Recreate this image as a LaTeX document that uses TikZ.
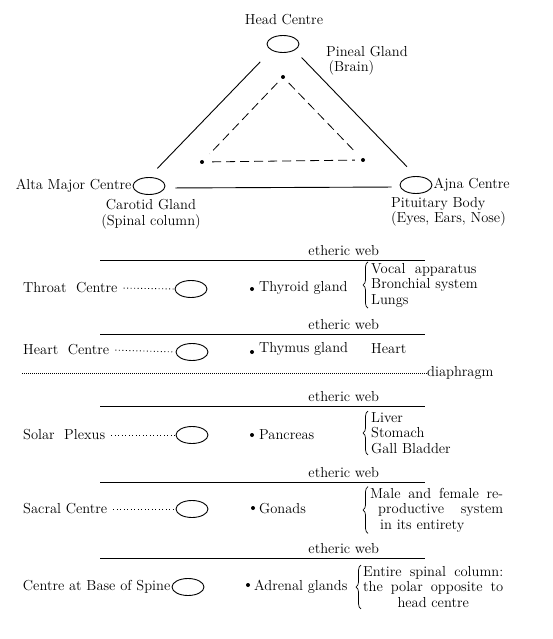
\documentclass[tikz,border=0pt]{standalone}
\usetikzlibrary{shapes.geometric, decorations.pathreplacing, calc, positioning}

\begin{document}
\begin{tikzpicture}[x=1pt, y=-1pt,
  every node/.style={font=\fontsize{14.5}{15.5}\selectfont, inner sep=1pt},
  centre/.style={draw, ellipse, minimum width=32pt, minimum height=17pt, inner sep=0pt, line width=0.9pt},
  gland/.style={circle, fill, inner sep=0pt, minimum size=4pt},
  web/.style={line width=0.8pt},
  leader/.style={line width=0.9pt, dash pattern=on 0.9pt off 2.6pt},
  innerdash/.style={line width=0.8pt, dash pattern=on 9pt off 5pt},
  brace/.style={decorate, decoration={brace, amplitude=5pt}, line width=0.7pt}]
  \useasboundingbox (0,0) rectangle (552,639);

  \node (headlbl) at (284,20) {Head Centre};
  \node[centre] (head) at (283,44) {};
  \node[centre] (alta) at (149,186) {};
  \node[centre] (ajna) at (416,185) {};
  \node[anchor=east] (altalbl) at (alta.west) {Alta Major Centre};
  \node[anchor=west] (ajnalbl) at (ajna.east) {Ajna Centre};
  \node[anchor=north west, align=left] (pineal) at (325,45) {Pineal Gland\\\,(Brain)};
  \node[align=center] (carotid) at (151,214) {Carotid Gland\\(Spinal column)};
  \node[anchor=west, align=left] (pituitary) at (390,212) {Pituitary Body\\(Eyes, Ears, Nose)};
  \draw[line width=0.9pt, shorten <=16pt, shorten >=12pt] (head.south west) -- (alta.north);
  \draw[line width=0.9pt, shorten <=10pt, shorten >=13pt] (head.south east) -- (ajna.north);
  \draw[line width=0.9pt, shorten <=10pt, shorten >=8pt] ([yshift=-2pt]alta.east) -- ([yshift=-2pt]ajna.west);
  \node[gland] (pinealpt) at (283,77) {};
  \node[gland] (carotidpt) at (202,162) {};
  \node[gland] (pituitarypt) at (363,160) {};
  \draw[innerdash, shorten <=6pt, shorten >=9pt] (pinealpt) -- (carotidpt);
  \draw[innerdash, shorten <=6pt, shorten >=8pt] (pinealpt) -- (pituitarypt);
  \draw[innerdash, shorten <=8pt, shorten >=6pt] (carotidpt) -- (pituitarypt);

  \coordinate (web1w) at (100,260); \coordinate (web1e) at (425,260);
  \coordinate (web2w) at (100,334); \coordinate (web2e) at (425,334);
  \coordinate (web3w) at (100,406); \coordinate (web3e) at (425,406);
  \coordinate (web4w) at (100,482); \coordinate (web4e) at (425,482);
  \coordinate (web5w) at (100,558); \coordinate (web5e) at (425,558);
  \draw[web] (web1w) -- (web1e) node[pos=0.75, above=3pt] {etheric web};
  \draw[web] (web2w) -- (web2e) node[pos=0.75, above=3pt] {etheric web};
  \draw[web] (web3w) -- (web3e) node[pos=0.75, above=3pt] {etheric web};
  \draw[web] (web4w) -- (web4e) node[pos=0.75, above=3pt] {etheric web};
  \draw[web] (web5w) -- (web5e) node[pos=0.75, above=3pt] {etheric web};

  \node[anchor=west] (throatlbl) at (22,288) {Throat\ \ Centre};
  \node[centre] (throat) at (191,289) {};
  \draw[leader, shorten <=5pt, shorten >=1pt] (throatlbl.east) -- (throat.west);
  \node[gland] (thyroidpt) at (252,289) {};
  \node[anchor=west] (thyroid) at (258,288) {Thyroid gland};
  \node[anchor=west, align=left] (throatorg) at (370,285) {Vocal\ \ apparatus\\Bronchial system\\Lungs};
  \draw[brace] ([xshift=-2pt]throatorg.south west) -- ([xshift=-2pt]throatorg.north west);

  \node[anchor=west] (heartlbl) at (22,350) {Heart\ \ Centre};
  \node[centre] (heart) at (192,352) {};
  \draw[leader, shorten <=5pt, shorten >=1pt] (heartlbl.east) -- (heart.west);
  \node[gland] (thymuspt) at (252,352) {};
  \node[anchor=west] (thymus) at (258,349) {Thymus gland};
  \node[anchor=west] (heartorg) at (370,349) {Heart};

  \node[anchor=west, inner sep=0pt] (diaphragm) at (427,373) {diaphragm};
  \coordinate (diaphragmw) at (22,373);
  \draw[line width=0.8pt, dash pattern=on 1pt off 1pt] (diaphragmw) -- (diaphragm.west);

  \node[anchor=west] (solarlbl) at (22,435) {Solar\ \ Plexus};
  \node[centre] (solar) at (192,435) {};
  \draw[leader, shorten <=5pt, shorten >=1pt] (solarlbl.east) -- (solar.west);
  \node[gland] (pancreaspt) at (252,435) {};
  \node[anchor=west] (pancreas) at (258,435) {Pancreas};
  \node[anchor=west, align=left] (solarorg) at (370,433) {Liver\\Stomach\\Gall\ Bladder};
  \draw[brace] ([xshift=-2pt]solarorg.south west) -- ([xshift=-2pt]solarorg.north west);

  \node[anchor=west] (sacrallbl) at (22,509) {Sacral Centre};
  \node[centre] (sacral) at (192,509) {};
  \draw[leader, shorten <=5pt, shorten >=1pt] (sacrallbl.east) -- (sacral.west);
  \node[gland] (gonadspt) at (253,508) {};
  \node[anchor=west] (gonads) at (258,509) {Gonads};
  \node[anchor=west, align=left] (sacralorg) at (369,510) {\makebox[133pt][s]{Male and female re-}\\\hspace*{8pt}\makebox[125pt][s]{productive system}\\\hspace*{10pt}in its entirety};
  \draw[brace] ([xshift=-1pt]sacralorg.south west) -- ([xshift=-1pt]sacralorg.north west);

  \node[centre] (base) at (188,587) {};
  \node[anchor=east] (baselbl) at (base.west) {Centre at Base of Spine};
  \node[gland] (adrenalpt) at (248,585) {};
  \node[anchor=west] (adrenal) at (253,587) {Adrenal glands};
  \node[anchor=west, align=center] (baseorg) at (362,587) {\makebox[140pt][s]{Entire spinal column:}\\\makebox[140pt][s]{the polar opposite to}\\head centre};
  \draw[brace] ([xshift=-1pt]baseorg.south west) -- ([xshift=-1pt]baseorg.north west);
\end{tikzpicture}
\end{document}
